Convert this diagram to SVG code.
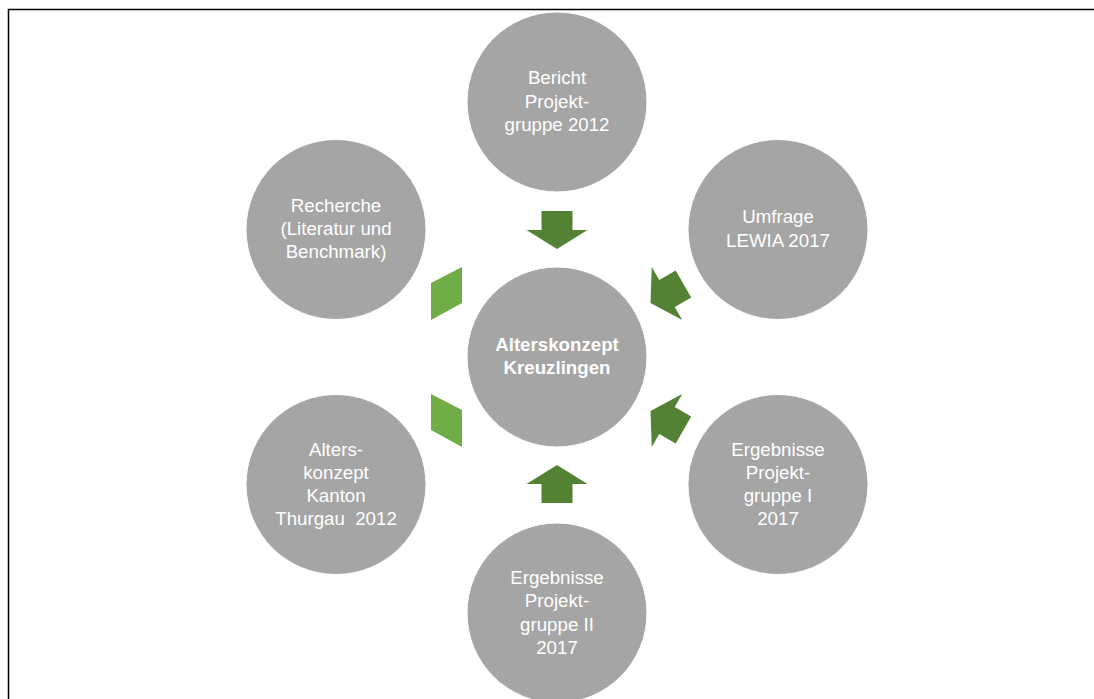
<svg xmlns="http://www.w3.org/2000/svg" width="1094" height="699" viewBox="0 0 1094 699">
  <style>
    .node { fill: #A5A5A5; stroke: #FFFFFF; stroke-width: 1; }
    .label { font-family: "Liberation Sans", Arial, sans-serif; font-size: 18.7px; fill: #FFFFFF; text-anchor: middle; }
    .bold { font-weight: bold; }
    .arrow-dark { fill: #548235; }
    .arrow-light { fill: #70AD47; }
  </style>
  <defs>
    <!-- block arrow pointing toward the hub, drawn at the top position relative to hub centre -->
    <polygon id="spoke" points="-15.5,-146 15.5,-146 15.5,-127 30.5,-127 0,-108 -30.5,-127 -15.5,-127"/>
  </defs>

  <rect x="0" y="0" width="1094" height="699" fill="#FFFFFF"/>
  <!-- page frame -->
  <rect x="8.5" y="9.5" width="1100" height="700" fill="none" stroke="#000000" stroke-width="1.5"/>

  <!-- connectors -->
  <g id="connectors">
    <g transform="translate(557,357)">
      <use href="#spoke" class="arrow-dark"/>
      <use href="#spoke" class="arrow-dark" transform="rotate(60)"/>
      <use href="#spoke" class="arrow-dark" transform="rotate(120)"/>
      <use href="#spoke" class="arrow-dark" transform="rotate(180)"/>
    </g>
    <polygon class="arrow-light" points="431,283 462,267 462,303 431,320"/>
    <polygon class="arrow-light" points="431,394 462,410 462,447 431,430"/>
  </g>

  <g id="hub">
    <circle class="node" cx="557" cy="357" r="90"/>
    <text class="label bold" x="557" y="351">Alterskonzept</text>
    <text class="label bold" x="557" y="374">Kreuzlingen</text>
  </g>

  <g id="bericht">
    <circle class="node" cx="557" cy="102" r="90"/>
    <text class="label" x="557" y="84">Bericht</text>
    <text class="label" x="557" y="107.5">Projekt-</text>
    <text class="label" x="557" y="131">gruppe 2012</text>
  </g>

  <g id="umfrage">
    <circle class="node" cx="778" cy="229.5" r="90"/>
    <text class="label" x="778" y="223">Umfrage</text>
    <text class="label" x="778" y="247">LEWIA 2017</text>
  </g>

  <g id="ergebnisse-1">
    <circle class="node" cx="778" cy="484.5" r="90"/>
    <text class="label" x="778" y="456">Ergebnisse</text>
    <text class="label" x="778" y="479">Projekt-</text>
    <text class="label" x="778" y="502">gruppe I</text>
    <text class="label" x="778" y="525">2017</text>
  </g>

  <g id="ergebnisse-2">
    <circle class="node" cx="557" cy="613" r="90"/>
    <text class="label" x="557" y="584">Ergebnisse</text>
    <text class="label" x="557" y="607">Projekt-</text>
    <text class="label" x="557" y="631">gruppe II</text>
    <text class="label" x="557" y="654">2017</text>
  </g>

  <g id="alterskonzept-tg">
    <circle class="node" cx="336" cy="484.5" r="90"/>
    <text class="label" x="336" y="456">Alters-</text>
    <text class="label" x="336" y="479">konzept</text>
    <text class="label" x="336" y="502">Kanton</text>
    <text class="label" x="336" y="525" xml:space="preserve">Thurgau  2012</text>
  </g>

  <g id="recherche">
    <circle class="node" cx="336" cy="229.5" r="90"/>
    <text class="label" x="336" y="212">Recherche</text>
    <text class="label" x="336" y="235">(Literatur und</text>
    <text class="label" x="336" y="258">Benchmark)</text>
  </g>
</svg>
